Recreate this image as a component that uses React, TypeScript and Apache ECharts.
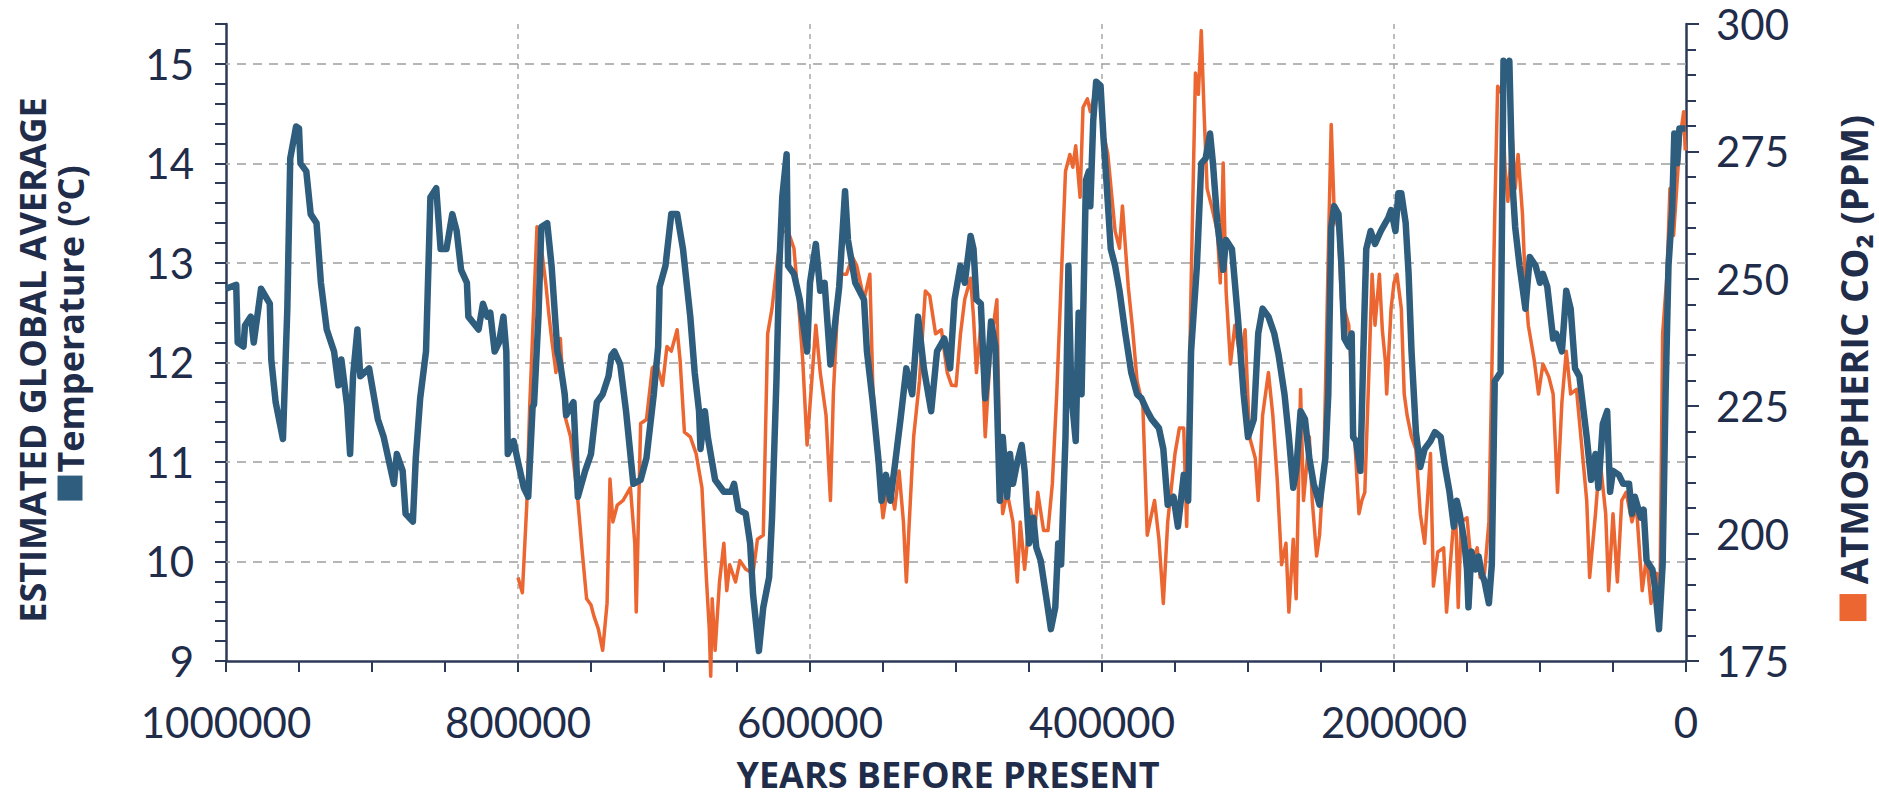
import React, { useEffect, useRef } from "react";
import * as echarts from "echarts";

// ---- Data ----
const tempYears = [
  1000000, 993000, 992000, 988000, 987000, 983000, 981000, 976000, 970000, 969000,
  966000, 961000, 958000, 956000, 952000, 950000, 949000, 945000, 942000, 938000,
  935000, 931000, 926000, 923000, 921000, 917000, 915000, 913000, 910000, 908000,
  902000, 896000, 892000, 885000, 883000, 879000, 877000, 872000, 870000, 867000,
  863000, 860000, 856000, 853000, 849000, 845000, 842000, 839000, 835000, 834000,
  827000, 824000, 821000, 819000, 816000, 813000, 810000, 808000, 807000, 803000,
  800000, 796000, 793000, 790000, 789000, 786000, 784000, 780000, 777000, 773000,
  771000, 768000, 767000, 762000, 759000, 754000, 750000, 746000, 742000, 738000,
  736000, 734000, 730000, 726000, 721000, 716000, 712000, 707000, 704000, 703000,
  699000, 695000, 691000, 687000, 682000, 679000, 676000, 675000, 672000, 670000,
  665000, 659000, 654000, 652000, 649000, 644000, 641000, 639000, 635000, 632000,
  628000, 626000, 623000, 621000, 619000, 616000, 615000, 611000, 607000, 602000,
  600000, 596000, 593000, 590000, 586000, 580000, 576000, 574000, 569000, 563000,
  561000, 557000, 553000, 551000, 548000, 545000, 542000, 538000, 534000, 530000,
  526000, 522000, 517000, 513000, 508000, 504000, 501000, 497000, 494000, 490000,
  488000, 486000, 483000, 480000, 478000, 476000, 473000, 470000, 468000, 465000,
  463000, 461000, 458000, 455000, 453000, 450000, 447000, 445000, 442000, 438000,
  435000, 432000, 430000, 428000, 425000, 423000, 421000, 418000, 416000, 414000,
  411000, 409000, 408000, 406000, 404000, 401000, 399000, 397000, 394000, 391000,
  388000, 384000, 380000, 376000, 373000, 369000, 366000, 361000, 358000, 355000,
  351000, 348000, 344000, 341000, 339000, 335000, 332000, 329000, 326000, 324000,
  321000, 317000, 315000, 311000, 307000, 303000, 300000, 296000, 293000, 290000,
  286000, 282000, 279000, 275000, 272000, 269000, 267000, 264000, 261000, 258000,
  255000, 251000, 247000, 245000, 243000, 241000, 238000, 236000, 234000, 231000,
  229000, 228000, 226000, 223000, 221000, 219000, 216000, 213000, 209000, 206000,
  204000, 202000, 199000, 197000, 195000, 192000, 190000, 188000, 185000, 182000,
  179000, 175000, 172000, 168000, 165000, 162000, 159000, 157000, 155000, 152000,
  150000, 149000, 147000, 144000, 142000, 140000, 138000, 135000, 133000, 131000,
  127000, 125000, 123000, 121000, 119000, 117000, 114000, 110000, 107000, 103000,
  100000, 98000, 95000, 91000, 89000, 85000, 82000, 79000, 76000, 73000,
  68000, 65000, 62000, 60000, 57000, 54000, 52000, 50000, 46000, 43000,
  39000, 37000, 35000, 31000, 29000, 27000, 23000, 21000, 18500, 16000,
  14000, 12000, 9500, 8000, 6000, 4500, 1600, 300,
];
const tempValues = [
  12.74, 12.78, 12.2, 12.16, 12.37, 12.46, 12.2, 12.74, 12.59, 12.03,
  11.6, 11.23, 12.54, 14.05, 14.37, 14.35, 14.0, 13.92, 13.49, 13.4,
  12.8, 12.33, 12.11, 11.77, 12.03, 11.56, 11.08, 11.86, 12.33, 11.86,
  11.94, 11.43, 11.25, 10.78, 11.08, 10.91, 10.48, 10.4, 11.04, 11.64,
  12.11, 13.66, 13.75, 13.14, 13.14, 13.49, 13.32, 12.93, 12.8, 12.46,
  12.33, 12.59, 12.46, 12.5, 12.11, 12.2, 12.46, 12.11, 11.08, 11.21,
  11.0, 10.74, 10.65, 11.55, 11.58, 12.46, 13.36, 13.4, 12.97, 12.11,
  11.98, 11.68, 11.47, 11.6, 10.65, 10.91, 11.08, 11.6, 11.68, 11.86,
  12.07, 12.11, 11.98, 11.51, 10.78, 10.82, 11.04, 11.68, 12.16, 12.76,
  12.97, 13.49, 13.49, 13.14, 12.46, 11.9, 11.51, 11.13, 11.51, 11.25,
  10.82, 10.7, 10.7, 10.78, 10.52, 10.48, 10.18, 9.67, 9.1, 9.54,
  9.84, 10.44, 11.81, 12.97, 13.66, 14.09, 12.97, 12.89, 12.63, 12.11,
  12.8, 13.19, 12.72, 12.8, 11.98, 12.76, 13.72, 13.23, 12.8, 12.63,
  12.11, 11.6, 11.0, 10.61, 10.87, 10.61, 10.95, 11.43, 11.94, 11.68,
  12.46, 11.94, 11.51, 12.11, 12.24, 11.94, 12.63, 12.97, 12.8, 13.27,
  13.14, 12.63, 12.59, 11.64, 11.98, 12.41, 12.16, 10.61, 11.25, 10.65,
  11.08, 10.78, 11.0, 11.17, 10.91, 10.18, 10.44, 10.14, 10.01, 9.62,
  9.32, 9.54, 10.18, 9.97, 11.25, 12.97, 11.68, 11.21, 12.5, 11.68,
  13.83, 13.92, 13.57, 14.43, 14.82, 14.78, 14.26, 13.83, 13.14, 12.97,
  12.72, 12.29, 11.9, 11.68, 11.64, 11.51, 11.43, 11.34, 11.13, 10.57,
  10.65, 10.35, 10.87, 10.61, 12.11, 12.97, 14.0, 14.05, 14.3, 14.0,
  13.4, 12.93, 13.23, 13.14, 12.46, 11.68, 11.25, 11.43, 12.29, 12.54,
  12.46, 12.29, 12.07, 11.68, 11.25, 10.74, 10.91, 11.51, 11.43, 11.04,
  10.78, 10.57, 11.04, 11.68, 13.36, 13.57, 13.49, 12.97, 12.24, 12.16,
  12.29, 11.25, 11.21, 10.91, 12.11, 13.14, 13.32, 13.19, 13.32, 13.4,
  13.45, 13.53, 13.32, 13.7, 13.7, 13.4, 12.89, 12.11, 11.3, 10.95,
  11.13, 11.21, 11.3, 11.25, 10.95, 10.7, 10.35, 10.61, 10.48, 10.22,
  9.92, 9.54, 10.1, 9.92, 10.05, 9.88, 9.8, 9.58, 9.97, 11.81,
  11.9, 15.03, 14.95, 15.03, 13.83, 13.36, 12.97, 12.54, 13.06, 12.97,
  12.8, 12.89, 12.76, 12.24, 12.29, 12.11, 12.72, 12.54, 11.94, 11.86,
  11.25, 10.82, 11.08, 10.74, 11.38, 11.51, 10.7, 10.91, 10.87, 10.78,
  10.78, 10.48, 10.65, 10.44, 10.52, 10.01, 9.92, 9.71, 9.32, 9.97,
  11.68, 12.97, 13.53, 14.3, 14.0, 14.35, 14.35, 14.35,
];

const co2Years = [
  800000, 797000, 794000, 792000, 787000, 784000, 781000, 779000, 777000, 774000,
  771000, 768000, 764000, 759000, 756000, 753000, 750000, 748000, 745000, 742000,
  739000, 737000, 735000, 732000, 728000, 723000, 720000, 719000, 716000, 712000,
  708000, 705000, 701000, 698000, 695000, 691000, 689000, 686000, 682000, 678000,
  674000, 671000, 669000, 668000, 667000, 665000, 662000, 659000, 657000, 655000,
  651000, 648000, 644000, 639000, 636000, 632000, 629000, 626000, 622000, 619000,
  615000, 611000, 608000, 605000, 602000, 599000, 596000, 593000, 589000, 586000,
  584000, 580000, 575000, 571000, 568000, 563000, 559000, 557000, 554000, 550000,
  546000, 542000, 539000, 536000, 534000, 532000, 529000, 525000, 521000, 518000,
  514000, 510000, 506000, 503000, 500000, 497000, 494000, 490000, 488000, 486000,
  483000, 480000, 476000, 472000, 470000, 468000, 465000, 461000, 458000, 456000,
  453000, 449000, 446000, 444000, 440000, 437000, 434000, 431000, 428000, 425000,
  422000, 420000, 418000, 415000, 413000, 410000, 408000, 405000, 401000, 399000,
  396000, 391000, 388000, 386000, 382000, 379000, 376000, 372000, 369000, 366000,
  364000, 361000, 358000, 355000, 350000, 347000, 344000, 342000, 339000, 336000,
  334000, 332000, 330000, 328000, 325000, 321000, 319000, 317000, 315000, 312000,
  309000, 305000, 302000, 299000, 295000, 293000, 290000, 286000, 283000, 280000,
  277000, 274000, 272000, 269000, 267000, 264000, 262000, 258000, 256000, 253000,
  251000, 248000, 245000, 243000, 241000, 238000, 236000, 234000, 231000, 229000,
  227000, 224000, 222000, 220000, 217000, 215000, 213000, 210000, 208000, 206000,
  205000, 202000, 200000, 198000, 195000, 193000, 191000, 188000, 185000, 182000,
  179000, 175000, 173000, 170000, 166000, 164000, 161000, 158000, 156000, 154000,
  150000, 147000, 143000, 141000, 138000, 135000, 133000, 131000, 129000, 126000,
  124000, 122000, 119000, 117000, 115000, 112000, 110000, 108000, 104000, 101000,
  98000, 94000, 91000, 88000, 85000, 82000, 79000, 75000, 72000, 68000,
  66000, 62000, 59000, 55000, 53000, 50000, 47000, 44000, 41000, 37000,
  34000, 30000, 27000, 24000, 20000, 18000, 16000, 13000, 11000, 8500,
  6000, 4000, 1600, 500,
];
const co2Values = [
  191.4, 188.4, 205.6, 224.9, 260.2, 256, 249.2, 243.4, 238.3, 231.6,
  238.3, 223.2, 219, 206.5, 196.4, 187.2, 186, 183.8, 181.3, 177.1,
  186.3, 210.7, 202.3, 205.6, 206.5, 209, 198.1, 184.6, 221.6, 222.4,
  232.5, 233.3, 229.1, 236.7, 235.8, 240, 234.1, 219.9, 219, 215.7,
  209, 191.4, 181.3, 172, 187.2, 177.1, 190.5, 198.1, 188.8, 193.9,
  190.5, 194.7, 193, 192.2, 198.9, 199.7, 239.2, 244.2, 254.3, 259.3,
  259.3, 256, 245.9, 234.1, 217.4, 229.1, 240.9, 231.6, 223.2, 206.5,
  227.4, 250.9, 250.9, 254.3, 252.6, 245.9, 250.9, 229.1, 214.8, 203.1,
  210.7, 204.8, 212.3, 202.3, 190.5, 202.3, 219, 230, 247.6, 246.7,
  239.2, 240, 231.6, 229.1, 229, 239, 246, 250.1, 242.5, 231.6,
  240.9, 219, 237.5, 245.9, 214.8, 203.9, 208.1, 202.3, 190.5, 202.3,
  193, 204.8, 200.6, 208.1, 200.6, 200.6, 209.8, 227.4, 249.2, 271.1,
  274.4, 271.9, 276.1, 266, 283.6, 285.3, 282.8, 286.2, 286.2, 278.6,
  274.4, 259.3, 256, 264.3, 248.4, 240, 230, 224.9, 199.7, 203.9,
  206.5, 198.9, 186.3, 202.3, 215.7, 220.7, 220.7, 201.4, 248.4, 290.4,
  286.2, 298.7, 282, 267.7, 264.3, 259.3, 249.2, 272.7, 247.6, 233.3,
  240.9, 234.1, 240, 219, 214.8, 206.5, 223.2, 231.6, 223.2, 210.7,
  193.9, 198.1, 184.6, 198.9, 187.2, 228.3, 206.5, 219, 206.5, 195.6,
  199.7, 214, 255, 280.3, 263.5, 259.3, 245.9, 244.2, 240.9, 230.8,
  219, 203.9, 206.5, 208.1, 233.3, 250.9, 240.9, 250.9, 240, 234.1,
  227.4, 244.2, 249.2, 250.9, 244.2, 227.4, 223.2, 219, 216.5, 203.9,
  198.1, 215.7, 189.7, 196.4, 197.2, 184.6, 195.6, 206.5, 185.5, 202.3,
  203.1, 193.9, 197.2, 191.4, 192.2, 202.3, 231.6, 262.7, 287.8, 286.2,
  271.9, 265.2, 277.8, 267.7, 274.4, 262.7, 248.4, 240.9, 234.1, 227.4,
  233.3, 230.8, 227.4, 208.1, 225.8, 235.8, 227.4, 228.3, 219, 206.5,
  191.4, 203.9, 214.8, 203.9, 188.8, 203.9, 190.5, 206.5, 208.1, 202.3,
  205.6, 188.8, 195.6, 186.3, 192.2, 183, 239.2, 250.9, 267.7, 258.5,
  269.4, 277.8, 282.8, 275.2,
];

const gridTemps = [10, 11, 12, 13, 14, 15];

const NAVY = "#1f2c4a";
const AXIS = "#2c3a57";
const BLUE = "#2e5d7e";
const ORANGE = "#ec6631";
const TICK_FONT = "Lato, 'Open Sans', sans-serif";
const TITLE_FONT = "'Open Sans', sans-serif";

export default function App() {
  const ref = useRef<HTMLDivElement>(null);

  useEffect(() => {
    if (!ref.current) return;
    const chart = echarts.init(ref.current, undefined, { renderer: "svg" });

    const temp = tempYears.map((y, i) => [y, tempValues[i]]);
    const co2 = co2Years.map((y, i) => [y, co2Values[i]]);

    const isInt = (v: number) => Math.abs(v - Math.round(v)) < 1e-6;

    const option: any = {
      animation: false,
      backgroundColor: "#ffffff",
      grid: { left: 226, right: 193, top: 24, bottom: 136, containLabel: false },
      xAxis: {
        type: "value",
        min: 0,
        max: 1000000,
        interval: 200000,
        inverse: true,
        axisLine: { show: true, onZero: false, lineStyle: { color: AXIS, width: 2.5 } },
        axisTick: { show: true, length: 11, lineStyle: { color: AXIS, width: 2 } },
        minorTick: { show: true, splitNumber: 4, length: 11, lineStyle: { color: AXIS, width: 2 } },
        splitLine: {
          show: true,
          showMinLine: false,
          showMaxLine: false,
          lineStyle: { color: "#a8a8a8", type: [5, 5], width: 1.5 },
        },
        axisLabel: {
          color: NAVY,
          fontSize: 42,
          fontFamily: TICK_FONT,
          margin: 40,
          formatter: (v: number) => String(v),
        },
      },
      yAxis: [
        {
          type: "value",
          position: "left",
          min: 9,
          max: 15.4,
          interval: 0.2,
          axisLine: { show: true, onZero: false, lineStyle: { color: AXIS, width: 2.5 } },
          axisTick: { show: true, length: 11, lineStyle: { color: AXIS, width: 2 } },
          splitLine: { show: false },
          axisLabel: {
            color: NAVY,
            fontSize: 42,
            fontFamily: TICK_FONT,
            margin: 32,
            formatter: (v: number) => (isInt(v) ? String(Math.round(v)) : ""),
          },
        },
        {
          type: "value",
          position: "right",
          min: 175,
          max: 300,
          interval: 25,
          axisLine: { show: true, onZero: false, lineStyle: { color: AXIS, width: 2.5 } },
          axisTick: { show: true, length: 13, lineStyle: { color: AXIS, width: 2 } },
          minorTick: { show: true, splitNumber: 5, length: 10, lineStyle: { color: AXIS, width: 2 } },
          splitLine: { show: false },
          axisLabel: {
            color: NAVY,
            fontSize: 42,
            fontFamily: TICK_FONT,
            margin: 30,
          },
        },
      ],
      series: [
        {
          name: "CO2",
          type: "line",
          yAxisIndex: 1,
          data: co2,
          symbol: "none",
          showSymbol: false,
          clip: false,
          z: 3,
          lineStyle: { color: ORANGE, width: 3.5, join: "round" },
        },
        {
          name: "Temperature",
          type: "line",
          yAxisIndex: 0,
          data: temp,
          symbol: "none",
          showSymbol: false,
          z: 4,
          lineStyle: { color: BLUE, width: 6.5, join: "round" },
          markLine: {
            silent: true,
            z: 1,
            symbol: ["none", "none"],
            label: { show: false },
            lineStyle: { color: "#9e9e9e", type: [9, 7], width: 1.5 },
            data: gridTemps.map((t) => ({ yAxis: t })),
          },
        },
      ],
      graphic: [
        {
          type: "text",
          x: 32,
          y: 360,
          rotation: Math.PI / 2,
          style: {
            text: "ESTIMATED GLOBAL AVERAGE",
            fontFamily: TITLE_FONT,
            fontWeight: "bold",
            fontSize: 36,
            fill: NAVY,
            align: "center",
            verticalAlign: "middle",
          },
        },
        {
          type: "text",
          x: 70,
          y: 333,
          rotation: Math.PI / 2,
          style: {
            text: "{sq| }{t|Temperature (ºC)}",
            align: "center",
            verticalAlign: "middle",
            rich: {
              sq: { width: 25, height: 25, backgroundColor: BLUE },
              t: {
                fontFamily: TITLE_FONT,
                fontWeight: "bold",
                fontSize: 36,
                fill: NAVY,
                color: NAVY,
                padding: [0, 0, 0, 3],
              },
            },
          },
        },
        {
          type: "text",
          x: 1853,
          y: 368,
          rotation: Math.PI / 2,
          style: {
            text: "{sq| }{t| ATMOSPHERIC CO₂ (PPM)}",
            align: "center",
            verticalAlign: "middle",
            rich: {
              sq: { width: 27, height: 27, backgroundColor: ORANGE },
              t: {
                fontFamily: TITLE_FONT,
                fontWeight: "bold",
                fontSize: 38,
                fill: NAVY,
                color: NAVY,
              },
            },
          },
        },
        {
          type: "text",
          x: 948,
          y: 774,
          style: {
            text: "YEARS BEFORE PRESENT",
            fontFamily: TITLE_FONT,
            fontWeight: "bold",
            fontSize: 36,
            fill: NAVY,
            align: "center",
            verticalAlign: "middle",
          },
        },
      ],
    };

    chart.setOption(option);
    return () => chart.dispose();
  }, []);

  return (
    <div
      ref={ref}
      style={{ position: "fixed", left: 0, top: 0, width: 1879, height: 797, background: "#fff" }}
    />
  );
}
